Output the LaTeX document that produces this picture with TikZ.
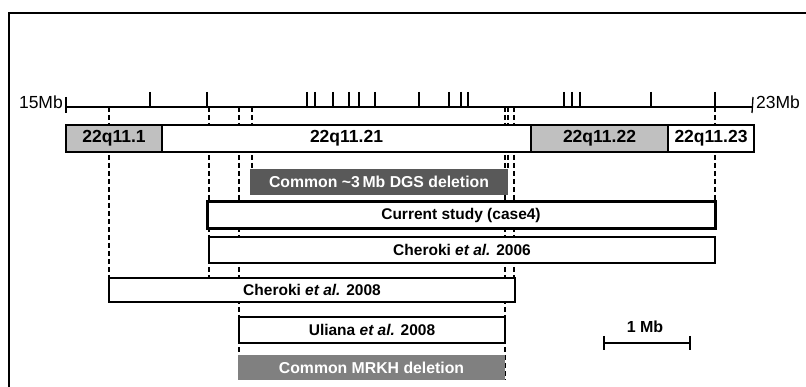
\documentclass[tikz,border=0pt]{standalone}
\usepackage{fontspec}
\setmainfont{Liberation Sans}
\begin{document}
\begin{tikzpicture}[x=1pt,y=-1pt,
  band/.style={draw=black,line width=1.4pt,inner sep=0pt,font=\fontsize{17.5}{19}\selectfont\bfseries},
  graybox/.style={band,fill={rgb,255:red,192;green,192;blue,192}},
  studybox/.style={draw=black,line width=1.4pt,fill=white,inner sep=0pt,font=\fontsize{15.5}{17}\selectfont\bfseries},
  delbox/.style={inner sep=0pt,text=white,font=\fontsize{15.8}{17}\selectfont\bfseries},
  guide/.style={line width=1.5pt,dash pattern=on 5pt off 3pt},
  tick/.style={line width=1.3pt},
  axislabel/.style={inner sep=0pt,font=\fontsize{17.5}{19}\selectfont}]
\path[use as bounding box,clip] (0,0) rectangle (806,387);
\fill[white] (0,0) rectangle (806,387);
\draw[line width=2pt] (9,13) rectangle (830,420);

% axis
\coordinate (a0) at (66,107);
\coordinate (a1) at (753,107);
\draw[line width=1.4pt] (a0) -- (a1);
\draw[tick] (66,97) -- (66,113);
\draw[tick] (753,97) -- (752,113);
\foreach \x in {150,207,307,315,333,349,359,375,419,449,461,468,564,572,580,651,715}
  \draw[tick] (\x,92) -- (\x,107);
\node[axislabel,anchor=east] (l15) at (63,102) {15Mb};
\node[axislabel,anchor=west] (l23) at (756,102) {23Mb};

% guide lines
\foreach \x/\y in {109/278,209/278,239/355,252/169,505/380,508/169,514/278,715/202}
  \draw[guide] (\x,107) -- (\x,\y);

% chromosome band
\node[graybox,minimum width=96pt,minimum height=27pt] (q1) at (114,138.5) {22q11.1};
\node[band,fill=white,minimum width=369pt,minimum height=27pt] (q21) at (346.5,138.5) {22q11.21};
\node[graybox,minimum width=137pt,minimum height=27pt] (q22) at (599.5,138.5) {22q11.22};
\node[band,fill=white,minimum width=86pt,minimum height=27pt] (q23) at (711,138.5) {22q11.23};

% deletions / studies
\node[delbox,fill={rgb,255:red,89;green,89;blue,89},minimum width=258pt,minimum height=26pt] (dgs) at (379,182) {Common \textasciitilde3\,Mb DGS deletion};
\node[studybox,line width=3pt,minimum width=508pt,minimum height=27pt] (cur) at (461,215.5) {Current study (case4)};
\node[studybox,minimum width=506pt,minimum height=26pt] (c06) at (462,250) {Cheroki \textit{et al.} 2006};
\node[studybox,minimum width=406pt,minimum height=24pt] (c08) at (312,290) {Cheroki \textit{et al.} 2008};
\node[studybox,minimum width=266pt,minimum height=26pt] (uli) at (372,330) {Uliana \textit{et al.} 2008};
\node[delbox,fill={rgb,255:red,128;green,128;blue,128},minimum width=267pt,minimum height=25pt] (mrkh) at (371.5,367.5) {Common MRKH deletion};

% scale bar
\coordinate (s0) at (604,343);
\coordinate (s1) at (690,343);
\draw[line width=1.4pt] (s0) -- (s1);
\draw[tick] (604,336) -- (604,350);
\draw[tick] (690,336) -- (690,350);
\node[inner sep=0pt,font=\fontsize{16}{18}\selectfont\bfseries] (mb) at (645,327) {1 Mb};
\end{tikzpicture}
\end{document}
